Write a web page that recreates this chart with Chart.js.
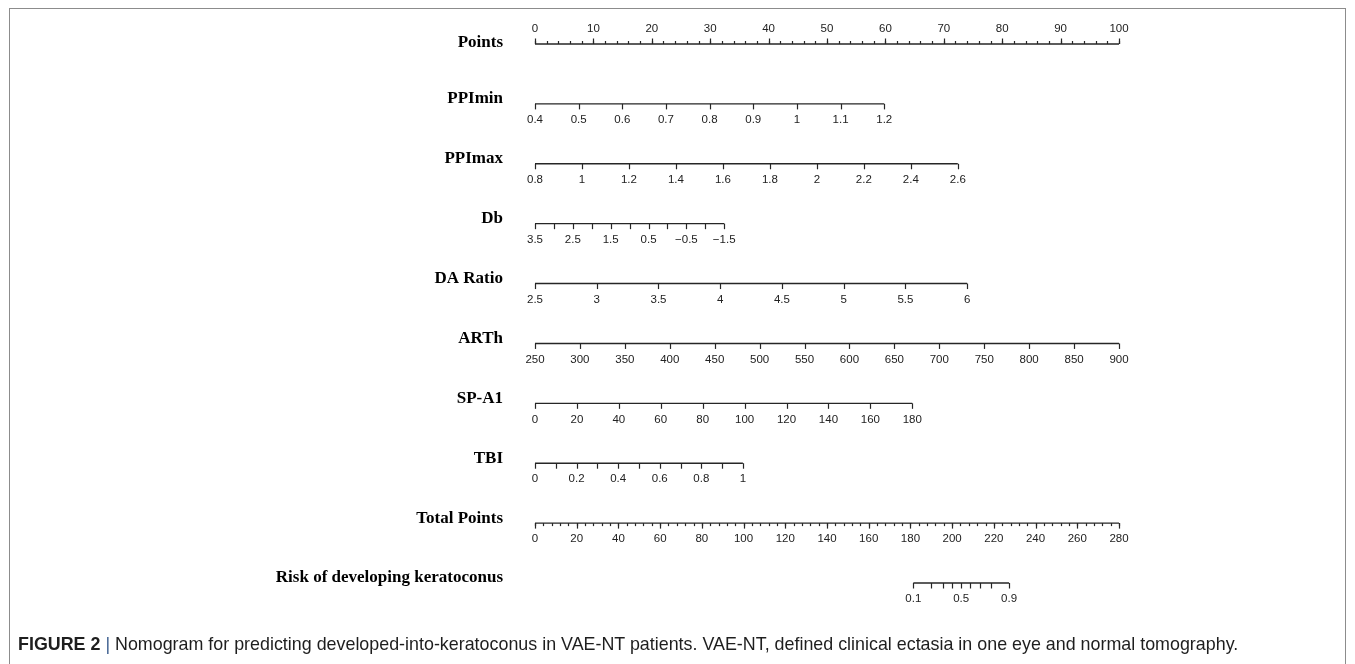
<!DOCTYPE html>
<html>
<head>
<meta charset="utf-8">
<title>Nomogram</title>
<script src="https://cdn.jsdelivr.net/npm/chart.js@4"></script>
<style>
  html, body { margin: 0; padding: 0; background: #fff; }
  body { width: 1355px; height: 664px; position: relative; overflow: hidden; }
  #frame { position: absolute; left: 9px; top: 8px; width: 1337px; height: 700px;
           border: 1px solid #8c8c8c; box-sizing: border-box; }
  #c { position: absolute; left: 0; top: 0; }
  #caption { position: absolute; left: 18px; top: 633px; white-space: nowrap;
             font: 19px "Liberation Sans", Arial, sans-serif; color: #1e1e1e; transform-origin: 0 0; }
  #caption b { font-weight: bold; }
  #caption .bar { color: #3d5f8f; }
</style>
</head>
<body>
<div id="frame"></div>
<canvas id="c" width="1355" height="664"></canvas>
<div id="caption"><b>FIGURE 2</b> <span class="bar">|</span> Nomogram for predicting developed-into-keratoconus in VAE-NT patients. VAE-NT, defined clinical ectasia in one eye and normal tomography.</div>

<script>
// Row names of the nomogram, top to bottom
const rowNames = ['Points', 'PPImin', 'PPImax', 'Db', 'DA Ratio', 'ARTh', 'SP-A1', 'TBI',
                  'Total Points', 'Risk of developing keratoconus'];

// Points scale (0-100), labelled every 10, minor ticks every 2
const pointsLabels = [0, 10, 20, 30, 40, 50, 60, 70, 80, 90, 100];
const pointsMinorStep = 2;

// Each predictor: tick values, labelled values, and points at the first / last value
const ppiminTicks = [0.4, 0.5, 0.6, 0.7, 0.8, 0.9, 1, 1.1, 1.2];
const ppiminEndPoints = [0, 59.8];

const ppimaxTicks = [0.8, 1, 1.2, 1.4, 1.6, 1.8, 2, 2.2, 2.4, 2.6];
const ppimaxEndPoints = [0, 72.4];

const dbTicks = [3.5, 3, 2.5, 2, 1.5, 1, 0.5, 0, -0.5, -1, -1.5];
const dbLabels = [3.5, 2.5, 1.5, 0.5, -0.5, -1.5];
const dbEndPoints = [0, 32.4];

const daRatioTicks = [2.5, 3, 3.5, 4, 4.5, 5, 5.5, 6];
const daRatioEndPoints = [0, 74.0];

const arthTicks = [250, 300, 350, 400, 450, 500, 550, 600, 650, 700, 750, 800, 850, 900];
const arthEndPoints = [0, 100];

const spa1Ticks = [0, 20, 40, 60, 80, 100, 120, 140, 160, 180];
const spa1EndPoints = [0, 64.6];

const tbiTicks = [0, 0.1, 0.2, 0.3, 0.4, 0.5, 0.6, 0.7, 0.8, 0.9, 1];
const tbiLabels = [0, 0.2, 0.4, 0.6, 0.8, 1];
const tbiEndPoints = [0, 35.6];

// Total points scale (0-280), labelled every 20
const totalPointsLabels = [0, 20, 40, 60, 80, 100, 120, 140, 160, 180, 200, 220, 240, 260, 280];
const totalPointsMax = 280;
const totalPointsMinorStep = 4;

// Risk: probabilities and the total points at 0.1 and 0.9
const riskTicks = [0.1, 0.2, 0.3, 0.4, 0.5, 0.6, 0.7, 0.8, 0.9];
const riskLabels = [0.1, 0.5, 0.9];
const riskTotalPoints = [181.4, 227.3];

// ---- mapping helpers ----
function linearMap(values, endPoints) {
    const v0 = values[0], v1 = values[values.length - 1];
    return v => endPoints[0] + (v - v0) / (v1 - v0) * (endPoints[1] - endPoints[0]);
}
const logit = p => Math.log(p / (1 - p));
function riskMap() {
    const l0 = logit(riskTicks[0]), l1 = logit(riskTicks[riskTicks.length - 1]);
    return p => {
        const tp = riskTotalPoints[0] + (logit(p) - l0) / (l1 - l0) * (riskTotalPoints[1] - riskTotalPoints[0]);
        return tp / totalPointsMax * 100;
    };
}
function stepTicks(max, step) {
    const out = [];
    for (let v = 0; v <= max + 1e-9; v += step) out.push(v);
    return out;
}

const rows = [
    { ticks: pointsLabels, minor: stepTicks(100, pointsMinorStep), labels: pointsLabels, toPts: v => v, up: true },
    { ticks: ppiminTicks, labels: ppiminTicks, toPts: linearMap(ppiminTicks, ppiminEndPoints) },
    { ticks: ppimaxTicks, labels: ppimaxTicks, toPts: linearMap(ppimaxTicks, ppimaxEndPoints) },
    { ticks: dbTicks, labels: dbLabels, toPts: linearMap(dbTicks, dbEndPoints) },
    { ticks: daRatioTicks, labels: daRatioTicks, toPts: linearMap(daRatioTicks, daRatioEndPoints) },
    { ticks: arthTicks, labels: arthTicks, toPts: linearMap(arthTicks, arthEndPoints) },
    { ticks: spa1Ticks, labels: spa1Ticks, toPts: linearMap(spa1Ticks, spa1EndPoints) },
    { ticks: tbiTicks, labels: tbiLabels, toPts: linearMap(tbiTicks, tbiEndPoints) },
    { ticks: totalPointsLabels, minor: stepTicks(totalPointsMax, totalPointsMinorStep), labels: totalPointsLabels,
      toPts: v => v / totalPointsMax * 100 },
    { ticks: riskTicks, labels: riskLabels, toPts: riskMap() }
];

const axisColor = '#262626';
const fmt = v => String(v).replace('-', '\u2212');

// axis lines as datasets
const datasets = rows.map((row, i) => {
    const first = row.ticks[0], last = row.ticks[row.ticks.length - 1];
    return {
        label: rowNames[i],
        data: [{ x: row.toPts(first), y: i }, { x: row.toPts(last), y: i }],
        showLine: true,
        borderColor: axisColor,
        borderWidth: 1.4,
        pointRadius: 0,
        clip: false
    };
});

// ticks, tick labels and row names
const nomogramPlugin = {
    id: 'nomogram',
    afterDatasetsDraw(chart) {
        const { ctx, scales: { x, y } } = chart;
        ctx.save();
        ctx.strokeStyle = axisColor;
        ctx.lineWidth = 1.2;
        rows.forEach((row, i) => {
            const py = y.getPixelForValue(i);
            const dir = row.up ? -1 : 1;
            const drawTick = (v, len) => {
                const px = Math.round(x.getPixelForValue(row.toPts(v))) + 0.5;
                ctx.beginPath();
                ctx.moveTo(px, py);
                ctx.lineTo(px, py + dir * len);
                ctx.stroke();
            };
            if (row.minor) row.minor.forEach(v => drawTick(v, 3));
            row.ticks.forEach(v => drawTick(v, 5.5));

            ctx.fillStyle = '#222';
            ctx.font = '11.5px "Liberation Sans", Arial, sans-serif';
            ctx.textAlign = 'center';
            ctx.textBaseline = 'middle';
            row.labels.forEach(v => {
                const px = x.getPixelForValue(row.toPts(v));
                ctx.fillText(fmt(v), px, row.up ? py - 15 : py + 16);
            });

            ctx.fillStyle = '#000';
            ctx.font = 'bold 17px "Liberation Serif", "Times New Roman", serif';
            ctx.textAlign = 'right';
            ctx.fillText(rowNames[i], 503, row.up ? py - 1 : py - 5);
        });
        ctx.restore();
    }
};

new Chart(document.getElementById('c'), {
    type: 'scatter',
    data: { datasets },
    options: {
        responsive: false,
        devicePixelRatio: 1,
        animation: false,
        events: [],
        layout: { padding: { left: 535, right: 236, top: 44, bottom: 81 } },
        plugins: { legend: { display: false }, tooltip: { enabled: false } },
        scales: {
            x: { type: 'linear', min: 0, max: 100, display: false },
            y: { type: 'linear', min: 0, max: 9, reverse: true, display: false }
        }
    },
    plugins: [nomogramPlugin]
});

// squeeze the caption to the condensed width of the original
const cap = document.getElementById('caption');
cap.style.transform = 'scaleX(' + (1220 / cap.scrollWidth) + ')';
</script>
</body>
</html>
